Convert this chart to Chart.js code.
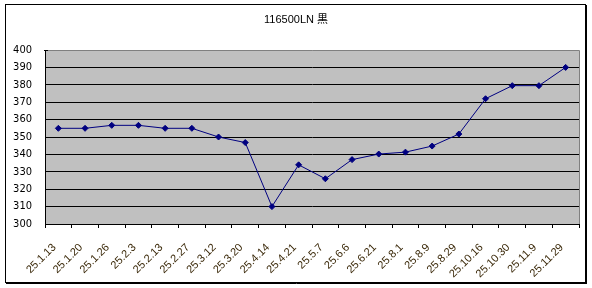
<!DOCTYPE html>
<html><head><meta charset="utf-8">
<script src="https://cdn.jsdelivr.net/npm/chart.js@4"></script>
<style>html,body{margin:0;padding:0;background:#fff}#wrap{width:592px;height:288px;position:relative}canvas{display:block}</style>
</head><body><div id="wrap"><canvas id="c" width="592" height="288"></canvas></div>
<script>
const chartTitle = '116500LN 黒';
const categories = ['25.1.13','25.1.20','25.1.26','25.2.3','25.2.13','25.2.27','25.3.12','25.3.20','25.4.14','25.4.21','25.5.7','25.6.6','25.6.21','25.8.1','25.8.9','25.8.29','25.10.16','25.10.30','25.11.9','25.11.29'];
const prices = [355, 355, 356.7, 356.7, 355, 355, 350, 346.8, 310, 334, 326, 337, 340.2, 341.3, 344.8, 351.7, 372, 379.5, 379.5, 390];
const yMin = 300;
const yMax = 400;
const yStep = 10;

const framePlugin = {
  id: 'frame',
  beforeDraw(chart) {
    const ctx = chart.ctx, a = chart.chartArea;
    ctx.save();
    ctx.fillStyle = '#fff';
    ctx.fillRect(0, 0, chart.width, chart.height);
    ctx.fillStyle = '#C0C0C0';
    ctx.fillRect(a.left, a.top, a.right - a.left, a.bottom - a.top);
    ctx.strokeStyle = '#000';
    ctx.lineWidth = 1;
    ctx.strokeRect(5.5, 4.5, 580, 278);
    ctx.beginPath();
    ctx.moveTo(586.5, 5); ctx.lineTo(586.5, 284);
    ctx.moveTo(6, 283.5); ctx.lineTo(587, 283.5);
    ctx.stroke();
    ctx.fillStyle = '#000';
    ctx.font = '11px "Liberation Sans", "Noto Sans CJK JP", sans-serif';
    ctx.textAlign = 'center';
    ctx.textBaseline = 'middle';
    ctx.fillText(chartTitle, 296, 20);
    ctx.restore();
  },
  beforeDatasetsDraw(chart) {
    const ctx = chart.ctx, a = chart.chartArea;
    ctx.save();
    ctx.strokeStyle = '#808080';
    ctx.lineWidth = 1;
    ctx.beginPath();
    ctx.moveTo(a.left, Math.round(a.top) + 0.5);
    ctx.lineTo(Math.round(a.right) + 0.5, Math.round(a.top) + 0.5);
    ctx.lineTo(Math.round(a.right) + 0.5, Math.round(a.bottom));
    ctx.stroke();
    ctx.strokeStyle = '#000';
    ctx.beginPath();
    ctx.moveTo(a.left - 1, Math.round(a.top) + 0.5);
    ctx.lineTo(a.left + 3, Math.round(a.top) + 0.5);
    ctx.stroke();
    ctx.restore();
  }
};

new Chart(document.getElementById('c'), {
  type: 'line',
  data: {
    labels: categories,
    datasets: [{
      data: prices,
      borderColor: '#000080',
      backgroundColor: '#000080',
      borderWidth: 1,
      pointStyle: 'rectRot',
      pointRadius: 3,
      pointHoverRadius: 3,
      pointBackgroundColor: '#000080',
      pointBorderColor: '#000080',
      tension: 0,
      fill: false
    }]
  },
  options: {
    responsive: false,
    animation: false,
    devicePixelRatio: 1,
    layout: { padding: { top: 50, right: 13, left: 0, bottom: 0 } },
    plugins: { legend: { display: false }, title: { display: false }, tooltip: { enabled: false } },
    scales: {
      x: {
        offset: true,
        afterFit(scale) { scale.height = 64; },
        grid: { display: true, drawOnChartArea: false, drawTicks: true, tickLength: 4, offset: true, color: '#000' },
        border: { display: true, color: '#000', width: 1 },
        ticks: {
          autoSkip: false, minRotation: 45, maxRotation: 45, padding: 13, labelOffset: -4,
          color: '#3a2808',
          font: { family: '"Liberation Sans", Arial, sans-serif', size: 11 }
        }
      },
      y: {
        min: yMin, max: yMax,
        afterFit(scale) { scale.width = 45; },
        grid: {
          drawTicks: false,
          color: (c) => (c.tick && c.tick.value === yMax) ? 'rgba(0,0,0,0)' : '#000',
          lineWidth: 1
        },
        border: { display: true, color: '#000', width: 1 },
        ticks: {
          stepSize: yStep, padding: 13, color: '#000',
          font: { family: '"Liberation Sans Narrow", "DejaVu Sans Condensed", sans-serif', size: 11 }
        }
      }
    }
  },
  plugins: [framePlugin]
});
</script>
</body></html>
